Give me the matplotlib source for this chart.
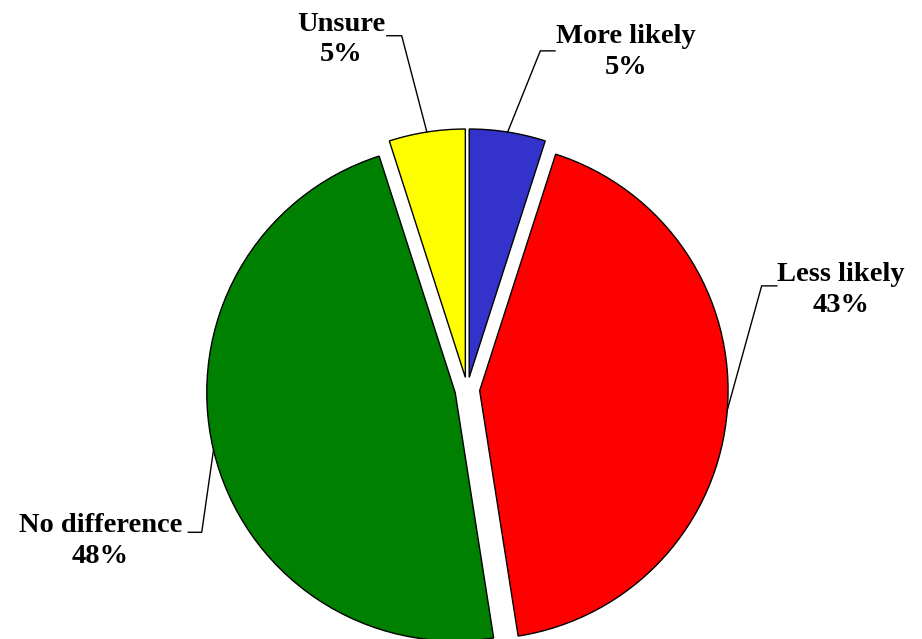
import numpy as np
import matplotlib
matplotlib.use("Agg")
import matplotlib.pyplot as plt

# survey answers, clockwise from 12 o'clock
labels = ["More likely", "Less likely", "No difference", "Unsure"]
values = [5, 43, 48, 5]
colors = ["#3333CC", "#FF0000", "#008000", "#FFFF00"]

# label centres and leader line (end next to text, elbow) in data units
label_pos = [(0.639, 1.359), (1.504, 0.400), (-1.477, -0.610), (-0.508, 1.410)]
leader_end = [(0.353, 1.364), (1.246, 0.418), (-1.123, -0.574), (-0.324, 1.425)]
leader_elbow = [(0.294, 1.364), (1.185, 0.418), (-1.069, -0.574), (-0.264, 1.425)]

plt.rcParams['font.family'] = ['Liberation Serif', 'DejaVu Serif']

fig = plt.figure(figsize=(9.22, 6.39), dpi=100)
ax = fig.add_axes([0, 0, 1, 1])

wedges, _ = ax.pie(values, colors=colors, startangle=90, counterclock=False,
                   explode=[0.05]*len(values),
                   wedgeprops={'edgecolor': 'black', 'linewidth': 1})

for w, lab, v, pos, e, el in zip(wedges, labels, values, label_pos, leader_end, leader_elbow):
    mid = np.radians((w.theta1 + w.theta2)/2)
    cx, cy = w.center
    ax_x = cx + w.r*np.cos(mid)
    ax_y = cy + w.r*np.sin(mid)
    ax.plot([ax_x, el[0], e[0]], [ax_y, el[1], e[1]], color='black', lw=1)
    ax.text(pos[0], pos[1], "{}\n{}%".format(lab, v), ha='center', va='center',
            fontsize=20.5, fontweight='bold', multialignment='center', linespacing=1.3)

ax.set_aspect('auto')
ax.set_xlim(-1.881, 1.8305)
ax.set_ylim(-1.0036, 1.5688)
ax.axis('off')

fig.savefig("out.png", dpi=100)
